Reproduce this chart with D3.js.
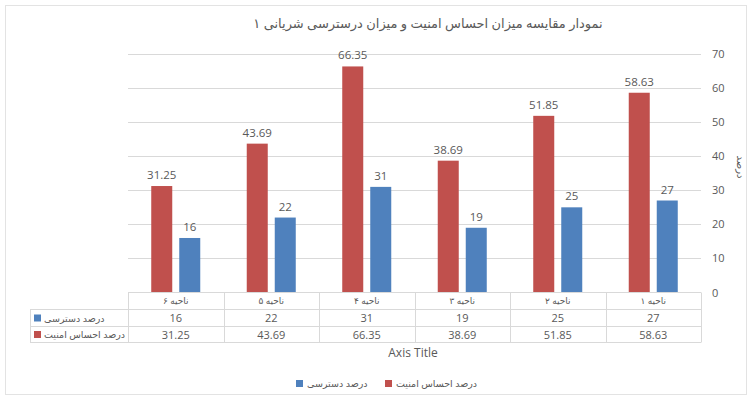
<!DOCTYPE html>
<html>
<meta charset="utf-8">
<head>
  <script src="https://d3js.org/d3.v7.js"></script>
  <style>
    body { margin: 0; background: #fff; }
    text { font-family: "Open Sans", "DejaVu Sans", sans-serif; fill: #595959; }
  </style>
</head>
<body>
  <svg id="chart" width="753" height="400"></svg>
  <script>
    // data
    var categories = ["ناحیه ۱", "ناحیه ۲", "ناحیه ۳", "ناحیه ۴", "ناحیه ۵", "ناحیه ۶"];
    var security = [58.63, 51.85, 38.69, 66.35, 43.69, 31.25];
    var access = [27, 25, 19, 31, 22, 16];
    var seriesNames = ["درصد احساس امنیت", "درصد دسترسی"];
    var yTicks = [0, 10, 20, 30, 40, 50, 60, 70];

    var title = "نمودار مقایسه میزان احساس امنیت و میزان درسترسی شریانی ۱";
    var yTitle = "درصد";
    var xTitle = "Axis Title";
    var colors = {"درصد احساس امنیت": "#c0504d", "درصد دسترسی": "#4f81bd"};
    var gridColor = "#d9d9d9";

    var svg = d3.select("svg#chart");
    var plotLeft = 128, plotRight = 701, plotTop = 54, plotBottom = 292.5;

    svg.append("rect")
      .attr("x", 5.5).attr("y", 5.5).attr("width", 741).attr("height", 389)
      .attr("fill", "none").attr("stroke", "#e3e3e3");

    // categories run right to left, value axis sits on the right
    var x0 = d3.scaleBand().domain(categories).range([plotRight, plotLeft]);
    var x1 = d3.scaleBand().domain(seriesNames).range([0, x0.bandwidth()])
      .paddingInner(0.25).paddingOuter(0.83);
    var y = d3.scaleLinear().domain([0, 70]).range([plotBottom, plotTop]);

    // grid
    svg.append("g").selectAll("line")
      .data(yTicks.slice(1))
      .enter().append("line")
      .attr("x1", plotLeft).attr("x2", plotRight)
      .attr("y1", d => Math.round(y(d)) + 0.5).attr("y2", d => Math.round(y(d)) + 0.5)
      .attr("stroke", gridColor);

    // y axis on the right
    var yAxis = svg.append("g")
      .attr("transform", `translate(${plotRight + 8}, 0)`)
      .call(d3.axisRight(y).tickValues(yTicks).tickSize(0).tickPadding(3));
    yAxis.select(".domain").remove();
    yAxis.selectAll("text")
      .style("font-size", "11px").attr("fill", "#595959")
      .style("font-family", "Open Sans, sans-serif");

    svg.append("text")
      .attr("transform", "translate(737, 167) rotate(90)")
      .attr("text-anchor", "middle")
      .style("font-size", "10px")
      .text(yTitle);

    // bars
    var rows = categories.map(function(c, i) {
      return {cat: c, values: [{s: seriesNames[0], v: security[i]}, {s: seriesNames[1], v: access[i]}]};
    });

    var groups = svg.append("g").selectAll("g")
      .data(rows)
      .enter().append("g")
      .attr("transform", d => `translate(${x0(d.cat)}, 0)`);

    groups.selectAll("rect")
      .data(d => d.values)
      .enter().append("rect")
      .attr("x", d => x1(d.s))
      .attr("width", x1.bandwidth())
      .attr("y", d => y(d.v))
      .attr("height", d => y(0) - y(d.v))
      .attr("fill", d => colors[d.s]);

    groups.selectAll("text.lbl")
      .data(d => d.values)
      .enter().append("text")
      .attr("class", "lbl")
      .attr("x", d => x1(d.s) + x1.bandwidth() / 2)
      .attr("y", d => y(d.v) - 7)
      .attr("text-anchor", "middle")
      .style("font-size", "11.5px")
      .text(d => d.v);

    // data table under the plot
    var rowY = [292.5, 309.5, 326.5, 342.5];
    var tbl = svg.append("g");
    tbl.append("line").attr("x1", plotLeft).attr("x2", plotRight)
      .attr("y1", rowY[0]).attr("y2", rowY[0]).attr("stroke", gridColor);
    rowY.slice(1).forEach(function(yy) {
      tbl.append("line").attr("x1", 30).attr("x2", plotRight)
        .attr("y1", yy).attr("y2", yy).attr("stroke", gridColor);
    });
    tbl.append("line").attr("x1", 30.5).attr("x2", 30.5)
      .attr("y1", rowY[1]).attr("y2", rowY[3]).attr("stroke", gridColor);
    x0.domain().forEach(function(c) {
      var xx = Math.round(x0(c)) + 0.5;
      tbl.append("line").attr("x1", xx).attr("x2", xx)
        .attr("y1", rowY[0]).attr("y2", rowY[3]).attr("stroke", gridColor);
    });
    tbl.append("line").attr("x1", plotRight + 0.5).attr("x2", plotRight + 0.5)
      .attr("y1", rowY[0]).attr("y2", rowY[3]).attr("stroke", gridColor);

    tbl.selectAll("text.cat")
      .data(categories)
      .enter().append("text")
      .attr("class", "cat")
      .attr("x", d => x0(d) + x0.bandwidth() / 2)
      .attr("y", 304)
      .attr("text-anchor", "middle")
      .style("font-size", "9px")
      .text(d => d);

    var tableRows = [{s: seriesNames[1], vals: access}, {s: seriesNames[0], vals: security}];
    tableRows.forEach(function(r, ri) {
      var cy = (rowY[ri + 1] + rowY[ri + 2]) / 2;
      tbl.append("rect")
        .attr("x", 34).attr("y", cy - 3.5).attr("width", 7).attr("height", 7)
        .attr("fill", colors[r.s]);
      tbl.append("text")
        .attr("x", 44).attr("y", cy + 3.5)
        .style("font-size", "9.5px")
        .text(r.s);
      tbl.selectAll("text.v" + ri)
        .data(r.vals)
        .enter().append("text")
        .attr("x", (d, i) => x0(categories[i]) + x0.bandwidth() / 2)
        .attr("y", cy + 4)
        .attr("text-anchor", "middle")
        .style("font-size", "11px")
        .text(d => d);
    });

    svg.append("text")
      .attr("x", 413).attr("y", 357)
      .attr("text-anchor", "middle")
      .style("font-size", "12px")
      .text(xTitle);

    // legend
    var legendItems = [{s: seriesNames[1], x: 296}, {s: seriesNames[0], x: 385}];
    var lg = svg.append("g");
    legendItems.forEach(function(it) {
      lg.append("rect").attr("x", it.x).attr("y", 380).attr("width", 7).attr("height", 7)
        .attr("fill", colors[it.s]);
      lg.append("text").attr("x", it.x + 11).attr("y", 387)
        .style("font-size", "9.5px")
        .text(it.s);
    });

    svg.append("text")
      .attr("x", 428).attr("y", 28)
      .attr("text-anchor", "middle")
      .style("font-size", "13px")
      .attr("fill", "#666")
      .text(title);
  </script>
</body>
</html>
